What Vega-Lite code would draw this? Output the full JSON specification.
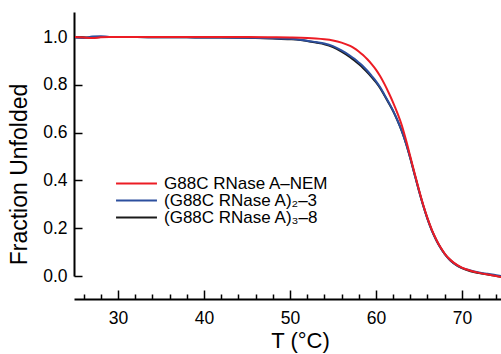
{
  "$schema": "https://vega.github.io/schema/vega-lite/v6.json",
  "width": 427,
  "height": 264,
  "autosize": {"type": "none"},
  "padding": {"left": 74, "top": 12, "right": 0, "bottom": 78},
  "config": {
    "view": {"stroke": null},
    "font": "Liberation Sans",
    "axis": {"grid": false, "domainColor": "black", "tickColor": "black", "labelColor": "black", "titleColor": "black", "domainWidth": 2, "tickWidth": 1.5, "titleFontWeight": "normal", "labelFont": "Liberation Sans", "titleFont": "Liberation Sans"},
    "legend": {"labelLimit": 400}
  },
  "data": {"values": [
    {"T":25,"F":1.0,"s":"a"},{"T":26,"F":0.998,"s":"a"},{"T":27,"F":0.996,"s":"a"},{"T":28,"F":0.999,"s":"a"},{"T":29,"F":1.0,"s":"a"},{"T":30,"F":1.0,"s":"a"},{"T":32,"F":1.0,"s":"a"},{"T":35,"F":1.0,"s":"a"},{"T":38,"F":1.0,"s":"a"},{"T":40,"F":1.0,"s":"a"},{"T":42,"F":1.0,"s":"a"},{"T":45,"F":1.0,"s":"a"},{"T":48,"F":0.999,"s":"a"},{"T":50,"F":0.998,"s":"a"},{"T":52,"F":0.996,"s":"a"},{"T":53,"F":0.994,"s":"a"},{"T":54,"F":0.991,"s":"a"},{"T":55,"F":0.986,"s":"a"},{"T":56,"F":0.977,"s":"a"},{"T":57,"F":0.963,"s":"a"},{"T":57.5,"F":0.953,"s":"a"},{"T":58,"F":0.94,"s":"a"},{"T":58.5,"F":0.925,"s":"a"},{"T":59,"F":0.907,"s":"a"},{"T":59.5,"F":0.887,"s":"a"},{"T":60,"F":0.864,"s":"a"},{"T":60.5,"F":0.836,"s":"a"},{"T":61,"F":0.803,"s":"a"},{"T":61.5,"F":0.766,"s":"a"},{"T":62,"F":0.726,"s":"a"},{"T":62.5,"F":0.682,"s":"a"},{"T":63,"F":0.632,"s":"a"},{"T":63.5,"F":0.569,"s":"a"},{"T":64,"F":0.5,"s":"a"},{"T":64.5,"F":0.43,"s":"a"},{"T":65,"F":0.362,"s":"a"},{"T":65.5,"F":0.298,"s":"a"},{"T":66,"F":0.242,"s":"a"},{"T":66.5,"F":0.194,"s":"a"},{"T":67,"F":0.154,"s":"a"},{"T":67.5,"F":0.121,"s":"a"},{"T":68,"F":0.094,"s":"a"},{"T":68.5,"F":0.073,"s":"a"},{"T":69,"F":0.057,"s":"a"},{"T":70,"F":0.035,"s":"a"},{"T":71,"F":0.022,"s":"a"},{"T":72,"F":0.013,"s":"a"},{"T":73,"F":0.006,"s":"a"},{"T":74,"F":0.0,"s":"a"},{"T":74.55,"F":-0.004,"s":"a"},
    {"T":25,"F":0.998,"s":"b"},{"T":26,"F":0.996,"s":"b"},{"T":27,"F":1.002,"s":"b"},{"T":28,"F":1.004,"s":"b"},{"T":29,"F":1.0,"s":"b"},{"T":30,"F":1.0,"s":"b"},{"T":32,"F":1.0,"s":"b"},{"T":35,"F":0.999,"s":"b"},{"T":38,"F":0.999,"s":"b"},{"T":40,"F":0.998,"s":"b"},{"T":42,"F":0.998,"s":"b"},{"T":45,"F":0.997,"s":"b"},{"T":48,"F":0.995,"s":"b"},{"T":50,"F":0.993,"s":"b"},{"T":52,"F":0.985,"s":"b"},{"T":53,"F":0.979,"s":"b"},{"T":54,"F":0.973,"s":"b"},{"T":55,"F":0.962,"s":"b"},{"T":56,"F":0.944,"s":"b"},{"T":57,"F":0.922,"s":"b"},{"T":57.5,"F":0.909,"s":"b"},{"T":58,"F":0.894,"s":"b"},{"T":58.5,"F":0.878,"s":"b"},{"T":59,"F":0.859,"s":"b"},{"T":59.5,"F":0.838,"s":"b"},{"T":60,"F":0.816,"s":"b"},{"T":60.5,"F":0.79,"s":"b"},{"T":61,"F":0.758,"s":"b"},{"T":61.5,"F":0.726,"s":"b"},{"T":62,"F":0.692,"s":"b"},{"T":62.5,"F":0.652,"s":"b"},{"T":63,"F":0.608,"s":"b"},{"T":63.5,"F":0.555,"s":"b"},{"T":64,"F":0.493,"s":"b"},{"T":64.5,"F":0.425,"s":"b"},{"T":65,"F":0.358,"s":"b"},{"T":65.5,"F":0.295,"s":"b"},{"T":66,"F":0.239,"s":"b"},{"T":66.5,"F":0.191,"s":"b"},{"T":67,"F":0.152,"s":"b"},{"T":67.5,"F":0.119,"s":"b"},{"T":68,"F":0.092,"s":"b"},{"T":68.5,"F":0.071,"s":"b"},{"T":69,"F":0.055,"s":"b"},{"T":70,"F":0.034,"s":"b"},{"T":71,"F":0.023,"s":"b"},{"T":72,"F":0.015,"s":"b"},{"T":73,"F":0.009,"s":"b"},{"T":74,"F":0.003,"s":"b"},{"T":74.55,"F":0.0,"s":"b"},
    {"T":25,"F":1.0,"s":"c"},{"T":26,"F":0.999,"s":"c"},{"T":27,"F":0.998,"s":"c"},{"T":28,"F":1.0,"s":"c"},{"T":29,"F":1.0,"s":"c"},{"T":30,"F":1.0,"s":"c"},{"T":32,"F":1.0,"s":"c"},{"T":35,"F":0.999,"s":"c"},{"T":38,"F":0.999,"s":"c"},{"T":40,"F":0.998,"s":"c"},{"T":42,"F":0.998,"s":"c"},{"T":45,"F":0.997,"s":"c"},{"T":48,"F":0.994,"s":"c"},{"T":50,"F":0.991,"s":"c"},{"T":52,"F":0.984,"s":"c"},{"T":53,"F":0.977,"s":"c"},{"T":54,"F":0.97,"s":"c"},{"T":55,"F":0.958,"s":"c"},{"T":56,"F":0.939,"s":"c"},{"T":57,"F":0.916,"s":"c"},{"T":57.5,"F":0.902,"s":"c"},{"T":58,"F":0.887,"s":"c"},{"T":58.5,"F":0.871,"s":"c"},{"T":59,"F":0.853,"s":"c"},{"T":59.5,"F":0.833,"s":"c"},{"T":60,"F":0.811,"s":"c"},{"T":60.5,"F":0.786,"s":"c"},{"T":61,"F":0.755,"s":"c"},{"T":61.5,"F":0.723,"s":"c"},{"T":62,"F":0.69,"s":"c"},{"T":62.5,"F":0.651,"s":"c"},{"T":63,"F":0.607,"s":"c"},{"T":63.5,"F":0.555,"s":"c"},{"T":64,"F":0.493,"s":"c"},{"T":64.5,"F":0.425,"s":"c"},{"T":65,"F":0.358,"s":"c"},{"T":65.5,"F":0.295,"s":"c"},{"T":66,"F":0.239,"s":"c"},{"T":66.5,"F":0.191,"s":"c"},{"T":67,"F":0.152,"s":"c"},{"T":67.5,"F":0.119,"s":"c"},{"T":68,"F":0.092,"s":"c"},{"T":68.5,"F":0.071,"s":"c"},{"T":69,"F":0.055,"s":"c"},{"T":70,"F":0.033,"s":"c"},{"T":71,"F":0.02,"s":"c"},{"T":72,"F":0.012,"s":"c"},{"T":73,"F":0.006,"s":"c"},{"T":74,"F":0.0,"s":"c"},{"T":74.55,"F":-0.003,"s":"c"}
  ]},
  "encoding": {
    "x": {"field": "T", "type": "quantitative",
      "scale": {"domain": [24.88, 74.55], "nice": false, "zero": false},
      "axis": {"values": [26,28,30,32,34,36,38,40,42,44,46,48,50,52,54,56,58,60,62,64,66,68,70,72,74],
        "labelExpr": "datum.value % 10 === 0 ? datum.label : ''",
        "tickSize": -9,
        "tickDash": {"condition": {"test": "datum.value % 10 !== 0", "value": [5, 20]}, "value": []},
        "offset": 23, "labelPadding": 19, "labelFontSize": 17.5, "labelFlush": false,
        "title": "T (°C)", "titleFontSize": 22, "titleX": 226, "titlePadding": 4}},
    "y": {"field": "F", "type": "quantitative",
      "scale": {"domain": [0, 1.105], "nice": false},
      "axis": {"values": [0, 0.2, 0.4, 0.6, 0.8, 1.0], "format": ".1f", "tickSize": -8, "labelPadding": 15,
        "labelFontSize": 17.5, "title": "Fraction Unfolded", "titleFontSize": 23, "titleY": 162, "titlePadding": 11}},
    "color": {"field": "s", "type": "nominal",
      "scale": {"domain": ["a", "b", "c"], "range": ["#ec1c24", "#2c4f9e", "#1a1a1a"]},
      "legend": {"orient": "none", "legendX": 54, "legendY": 163, "title": null, "padding": 0,
        "symbolType": "M-5,0H5", "symbolSize": 67, "symbolStrokeWidth": 2, "labelFontSize": 17, "labelOffset": 19,
        "rowPadding": -12, "labelColor": "black",
        "labelExpr": "datum.value === 'a' ? 'G88C RNase A–NEM' : datum.value === 'b' ? '(G88C RNase A)₂–3' : '(G88C RNase A)₃–8'"}}
  },
  "layer": [
    {"transform": [{"filter": "datum.s === 'c'"}], "mark": {"type": "line", "strokeWidth": 2, "interpolate": "monotone", "clip": false}},
    {"transform": [{"filter": "datum.s === 'b'"}], "mark": {"type": "line", "strokeWidth": 2, "interpolate": "monotone", "clip": false}},
    {"transform": [{"filter": "datum.s === 'a'"}], "mark": {"type": "line", "strokeWidth": 2, "interpolate": "monotone", "clip": false}}
  ]
}
